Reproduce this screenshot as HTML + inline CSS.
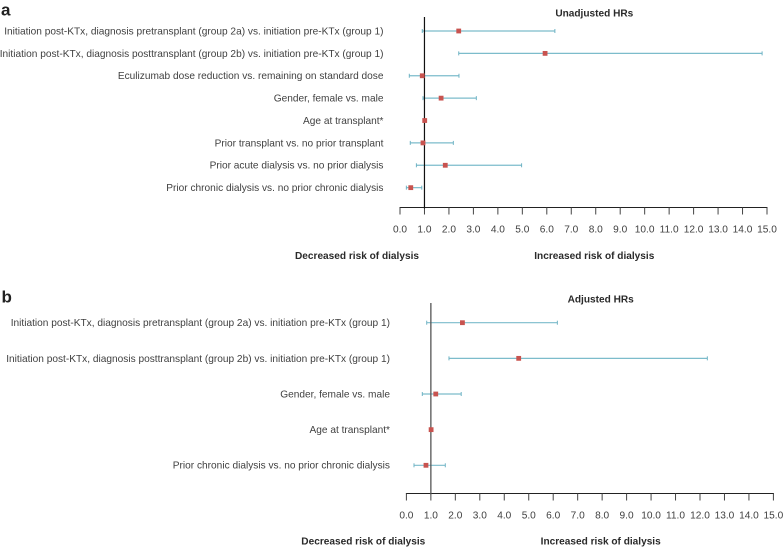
<!DOCTYPE html>
<html lang="en">
<head>
<meta charset="utf-8">
<title>Forest plots of HRs for dialysis risk</title>
<style>
html,body{margin:0;padding:0;background:#fff;width:783px;height:548px;overflow:hidden}
svg{display:block;font-family:"Liberation Sans",Arial,sans-serif}
text{fill:#404040;font-size:10.13px}
text.bold{font-weight:bold;font-size:10.1px;fill:#2a2a2a}
text.panel{font-weight:bold;font-size:17px;fill:#222}
</style>
</head>
<body>
<svg id="chart" width="783" height="548" viewBox="0 0 783 548" xmlns="http://www.w3.org/2000/svg">
  <text class="panel" x="1" y="15.5">a</text>
  <text class="panel" x="1.5" y="302.5">b</text>
  <text class="bold" x="594.3" y="16.5" text-anchor="middle">Unadjusted HRs</text>
  <text class="bold" x="600.7" y="302.5" text-anchor="middle">Adjusted HRs</text>
  <text class="bold" x="419" y="259" text-anchor="end">Decreased risk of dialysis</text>
  <text class="bold" x="594.3" y="259" text-anchor="middle">Increased risk of dialysis</text>
  <text class="bold" x="425.3" y="544.5" text-anchor="end">Decreased risk of dialysis</text>
  <text class="bold" x="600.7" y="544.5" text-anchor="middle">Increased risk of dialysis</text>
</svg>
<script>
const tickValues = [0,1,2,3,4,5,6,7,8,9,10,11,12,13,14,15];
const tickLabels = ["0.0","1.0","2.0","3.0","4.0","5.0","6.0","7.0","8.0","9.0","10.0","11.0","12.0","13.0","14.0","15.0"];

const categoriesA = [
  "Initiation post-KTx, diagnosis pretransplant (group 2a) vs. initiation pre-KTx (group 1)",
  "Initiation post-KTx, diagnosis posttransplant (group 2b) vs. initiation pre-KTx (group 1)",
  "Eculizumab dose reduction vs. remaining on standard dose",
  "Gender, female vs. male",
  "Age at transplant*",
  "Prior transplant vs. no prior transplant",
  "Prior acute dialysis vs. no prior dialysis",
  "Prior chronic dialysis vs. no prior chronic dialysis"
];
const estimateA = [2.4, 5.93, 0.91, 1.68, 1.01, 0.94, 1.85, 0.44];
const lowerA = [0.91, 2.4, 0.38, 0.94, null, 0.42, 0.67, 0.26];
const upperA = [6.33, 14.8, 2.41, 3.12, null, 2.18, 4.97, 0.89];

const categoriesB = [
  "Initiation post-KTx, diagnosis pretransplant (group 2a) vs. initiation pre-KTx (group 1)",
  "Initiation post-KTx, diagnosis posttransplant (group 2b) vs. initiation pre-KTx (group 1)",
  "Gender, female vs. male",
  "Age at transplant*",
  "Prior chronic dialysis vs. no prior chronic dialysis"
];
const estimateB = [2.29, 4.59, 1.2, 1.01, 0.8];
const lowerB = [0.83, 1.74, 0.65, null, 0.31];
const upperB = [6.17, 12.3, 2.24, null, 1.59];

const SVGNS = "http://www.w3.org/2000/svg";
const root = document.getElementById("chart");

function make(tag, attrs, parent) {
  const el = document.createElementNS(SVGNS, tag);
  for (const k in attrs) el.setAttribute(k, attrs[k]);
  parent.appendChild(el);
  return el;
}

function drawPanel(p) {
  const xScale = v => p.x0 + (p.x15 - p.x0) * v / 15;
  const yScale = i => p.rowTop + p.rowStep * i;

  const group = make("g", {}, root);
  
  

  const axis = make("line", {x1: xScale(0) - 0.5, x2: xScale(15) + 0.5, y1: p.axisY, y2: p.axisY, stroke: "#222", "stroke-width": 1}, group);
  
  

  tickValues.forEach((v, i) => {
    const tick = make("line", {x1: xScale(v), x2: xScale(v), y1: p.axisY, y2: p.axisY + 7, stroke: "#444", "stroke-width": 1}, group);
    
    
    const label = make("text", {x: xScale(v), y: p.tickTextY, "text-anchor": "middle"}, group);
    label.textContent = tickLabels[i];
    
    
  });

  p.cats.forEach((c, i) => {
    const label = make("text", {x: p.labelX, y: yScale(i) + 3.4, "text-anchor": "end"}, group);
    label.textContent = c;
    
    

    if (p.low[i] !== null) {
      const ci = make("line", {x1: xScale(p.low[i]), x2: xScale(p.high[i]), y1: yScale(i), y2: yScale(i), stroke: "#7cbccb", "stroke-width": 1.2}, group);
      
      
      [p.low[i], p.high[i]].forEach(v => {
        const cap = make("line", {x1: xScale(v), x2: xScale(v), y1: yScale(i) - 2, y2: yScale(i) + 2, stroke: "#6fb3c4", "stroke-width": 1}, group);
        
        
      });
    }
  });

  const refLine = make("line", {x1: xScale(1), x2: xScale(1), y1: p.refTop, y2: p.axisY + 1, stroke: p.refColor, "stroke-width": p.refWidth}, group);
  
  

  p.est.forEach((v, i) => {
    const pt = make("rect", {x: xScale(v) - 2.4, y: yScale(i) - 2.4, width: 4.8, height: 4.8, fill: "#c8534f"}, group);
    
    
  });
}

drawPanel({
  name: "panel-a-unadjusted", cats: categoriesA, est: estimateA, low: lowerA, high: upperA,
  x0: 400, x15: 767, axisY: 207.5, tickTextY: 232.7, rowTop: 31, rowStep: 22.38, labelX: 383.5,
  refTop: 17, refColor: "#111", refWidth: 1.2
});
drawPanel({
  name: "panel-b-adjusted", cats: categoriesB, est: estimateB, low: lowerB, high: upperB,
  x0: 406.4, x15: 773.4, axisY: 493.5, tickTextY: 518.3, rowTop: 322.7, rowStep: 35.65, labelX: 390,
  refTop: 303, refColor: "#555", refWidth: 1.3
});
</script>
</body>
</html>
